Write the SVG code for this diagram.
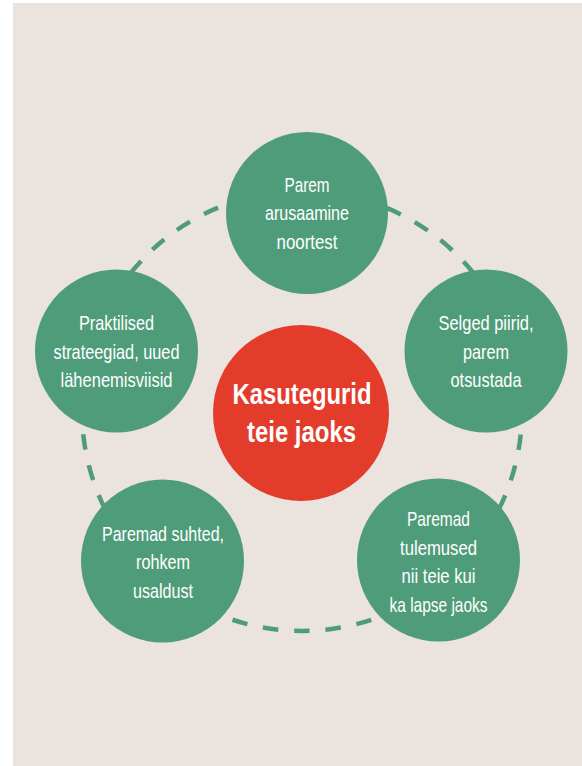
<svg xmlns="http://www.w3.org/2000/svg" width="582" height="766" viewBox="0 0 582 766">
  <style>
    .node { fill: #4f9c7b; }
    .hub { fill: #e43c2b; }
    .lbl { font-family: "Liberation Sans", Arial, sans-serif; font-size: 21px; fill: #ffffff; text-anchor: middle; }
    .hubl { font-family: "Liberation Sans", Arial, sans-serif; font-size: 29px; font-weight: bold; fill: #ffffff; text-anchor: middle; }
    .ring { fill: none; stroke: #4f9c7b; stroke-width: 4.5; stroke-dasharray: 15.5 15.916; stroke-dashoffset: 7.75; }
  </style>
  <rect x="0" y="0" width="582" height="766" fill="#ffffff"/>
  <rect x="13" y="3" width="569" height="763" fill="#ebe3dd"/>
  <g id="connectors">
    <circle class="ring" cx="302" cy="411" r="220"/>
  </g>
  <g id="node-top">
    <circle class="node" cx="307" cy="213" r="81"/>
    <text class="lbl" x="307" y="191.5" textLength="45" lengthAdjust="spacingAndGlyphs">Parem</text>
    <text class="lbl" x="307" y="220" textLength="84" lengthAdjust="spacingAndGlyphs">arusaamine</text>
    <text class="lbl" x="307" y="248.5" textLength="61" lengthAdjust="spacingAndGlyphs">noortest</text>
  </g>
  <g id="node-left">
    <circle class="node" cx="116.5" cy="351" r="81.5"/>
    <text class="lbl" x="116.5" y="330" textLength="75" lengthAdjust="spacingAndGlyphs">Praktilised</text>
    <text class="lbl" x="116.5" y="358.5" textLength="126" lengthAdjust="spacingAndGlyphs">strateegiad, uued</text>
    <text class="lbl" x="116.5" y="387" textLength="112" lengthAdjust="spacingAndGlyphs">lähenemisviisid</text>
  </g>
  <g id="node-right">
    <circle class="node" cx="486" cy="351" r="81.5"/>
    <text class="lbl" x="486" y="330" textLength="95" lengthAdjust="spacingAndGlyphs">Selged piirid,</text>
    <text class="lbl" x="486" y="358.5" textLength="46" lengthAdjust="spacingAndGlyphs">parem</text>
    <text class="lbl" x="486" y="387" textLength="71" lengthAdjust="spacingAndGlyphs">otsustada</text>
  </g>
  <g id="node-bottom-right">
    <circle class="node" cx="438.5" cy="560" r="81.5"/>
    <text class="lbl" x="438.5" y="526" textLength="63" lengthAdjust="spacingAndGlyphs">Paremad</text>
    <text class="lbl" x="438.5" y="554.5" textLength="77" lengthAdjust="spacingAndGlyphs">tulemused</text>
    <text class="lbl" x="438.5" y="583" textLength="74" lengthAdjust="spacingAndGlyphs">nii teie kui</text>
    <text class="lbl" x="438.5" y="611.5" textLength="98" lengthAdjust="spacingAndGlyphs">ka lapse jaoks</text>
  </g>
  <g id="node-bottom-left">
    <circle class="node" cx="162.5" cy="561" r="81.5"/>
    <text class="lbl" x="163" y="540.5" textLength="122" lengthAdjust="spacingAndGlyphs">Paremad suhted,</text>
    <text class="lbl" x="163" y="569" textLength="54" lengthAdjust="spacingAndGlyphs">rohkem</text>
    <text class="lbl" x="163" y="597.5" textLength="60" lengthAdjust="spacingAndGlyphs">usaldust</text>
  </g>
  <g id="node-center">
    <circle class="hub" cx="301" cy="413" r="88"/>
    <text class="hubl" x="302" y="403.5" textLength="139" lengthAdjust="spacingAndGlyphs">Kasutegurid</text>
    <text class="hubl" x="301.5" y="441.5" textLength="109" lengthAdjust="spacingAndGlyphs">teie jaoks</text>
  </g>
</svg>
